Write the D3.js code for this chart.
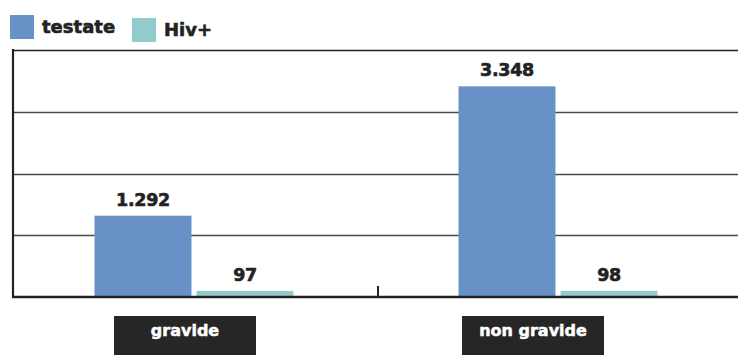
<!DOCTYPE html>
<meta charset="utf-8">
<script src="https://d3js.org/d3.v7.min.js"></script>
<style>
  body { margin: 0; background: #fff; }
  text { font-family: "DejaVu Sans", sans-serif; font-weight: bold; }
</style>
<div id="dataviz"></div>
<script>

// data
var categories = ["gravide", "non gravide"];
var seriesNames = ["testate", "Hiv+"];
var testate = [1292, 3348];
var hiv = [97, 98];
var valueLabels = [["1.292", "97"], ["3.348", "98"]];

var colors = {"testate": "#6791c7", "Hiv+": "#93cbcc"};

var W = 738, H = 355;
var margin = {top: 50, right: -2, bottom: 58, left: 12};
var height = H - margin.top - margin.bottom;

var svg = d3.select("#dataviz")
  .append("svg")
    .attr("width", W)
    .attr("height", H);

var rows = categories.map(function(c, i) {
  return {cat: c, values: [
    {key: "testate", value: testate[i], label: valueLabels[i][0]},
    {key: "Hiv+", value: hiv[i], label: valueLabels[i][1]}
  ]};
});

var x0 = d3.scaleBand()
  .domain(categories)
  .range([margin.left, W - margin.right]);

var x1 = d3.scaleBand()
  .domain(seriesNames)
  .range([-99.5, 99.5])
  .paddingInner(0.05);

var y = d3.scaleLinear()
  .domain([0, 3925])
  .range([margin.top + height, margin.top]);

// gridlines
var gridTicks = d3.range(1, 5).map(function(i) { return 3925 / 4 * i; });
svg.append("g")
  .selectAll("line")
  .data(gridTicks)
  .enter().append("line")
    .attr("x1", margin.left)
    .attr("x2", W)
    .attr("y1", function(d) { return Math.round(y(d)) + 0.5; })
    .attr("y2", function(d) { return Math.round(y(d)) + 0.5; })
    .attr("stroke", function(d, i) { return i == 3 ? "#222" : "#4a4a4a"; })
    .attr("stroke-width", 1.7);

// bars
var groups = svg.append("g")
  .selectAll("g")
  .data(rows)
  .enter().append("g")
    .attr("transform", function(d) { return "translate(" + (x0(d.cat) + x0.bandwidth() / 2) + ",0)"; });

groups.selectAll("rect")
  .data(function(d) { return d.values; })
  .enter().append("rect")
    .attr("x", function(d) { return x1(d.key); })
    .attr("width", x1.bandwidth())
    .attr("y", function(d) { return y(d.value); })
    .attr("height", function(d) { return y(0) - y(d.value); })
    .attr("fill", function(d) { return colors[d.key]; });

groups.selectAll("text")
  .data(function(d) { return d.values; })
  .enter().append("text")
    .attr("x", function(d) { return x1(d.key) + x1.bandwidth() / 2; })
    .attr("y", function(d) { return y(d.value) - 10; })
    .attr("text-anchor", "middle")
    .attr("fill", "#222")
    .attr("stroke", "#222")
    .attr("stroke-width", 0.6)
    .style("font-size", "17.5px")
    .style("letter-spacing", "-0.3px")
    .text(function(d) { return d.label; });

// axes
svg.append("line")
  .attr("x1", margin.left + 1).attr("x2", margin.left + 1)
  .attr("y1", margin.top - 1).attr("y2", y(0) + 1)
  .attr("stroke", "#222").attr("stroke-width", 2.2);

svg.append("line")
  .attr("x1", margin.left).attr("x2", W)
  .attr("y1", y(0)).attr("y2", y(0))
  .attr("stroke", "#222").attr("stroke-width", 2.4);

// middle tick between groups
svg.append("line")
  .attr("x1", x0(categories[1]) + 2).attr("x2", x0(categories[1]) + 2)
  .attr("y1", y(0) - 11).attr("y2", y(0))
  .attr("stroke", "#222").attr("stroke-width", 2);

// category boxes
var boxShift = [-9, -25];
var boxes = svg.append("g")
  .selectAll("g")
  .data(categories)
  .enter().append("g")
    .attr("transform", function(d, i) {
      return "translate(" + (x0(d) + x0.bandwidth() / 2 + boxShift[i]) + "," + (y(0) + 19) + ")";
    });

boxes.append("rect")
  .attr("x", -71)
  .attr("width", 142)
  .attr("height", 42)
  .attr("fill", "#262626");

boxes.append("text")
  .attr("y", 19.5)
  .attr("text-anchor", "middle")
  .attr("fill", "#fff")
  .attr("stroke", "#fff")
  .attr("stroke-width", 0.5)
  .style("font-size", "16px")
  .text(function(d) { return d; });

// legend
var legendPos = [{x: 10, y: 15}, {x: 132, y: 18}];
var legend = svg.append("g")
  .selectAll("g")
  .data(seriesNames)
  .enter().append("g")
    .attr("transform", function(d, i) { return "translate(" + legendPos[i].x + "," + legendPos[i].y + ")"; });

legend.append("rect")
  .attr("width", 24)
  .attr("height", 24)
  .attr("fill", function(d) { return colors[d]; });

legend.append("text")
  .attr("x", 32)
  .attr("y", 18)
  .attr("fill", "#222")
  .attr("stroke", "#222")
  .attr("stroke-width", 0.6)
  .style("font-size", "18px")
  .text(function(d) { return d; });

</script>
